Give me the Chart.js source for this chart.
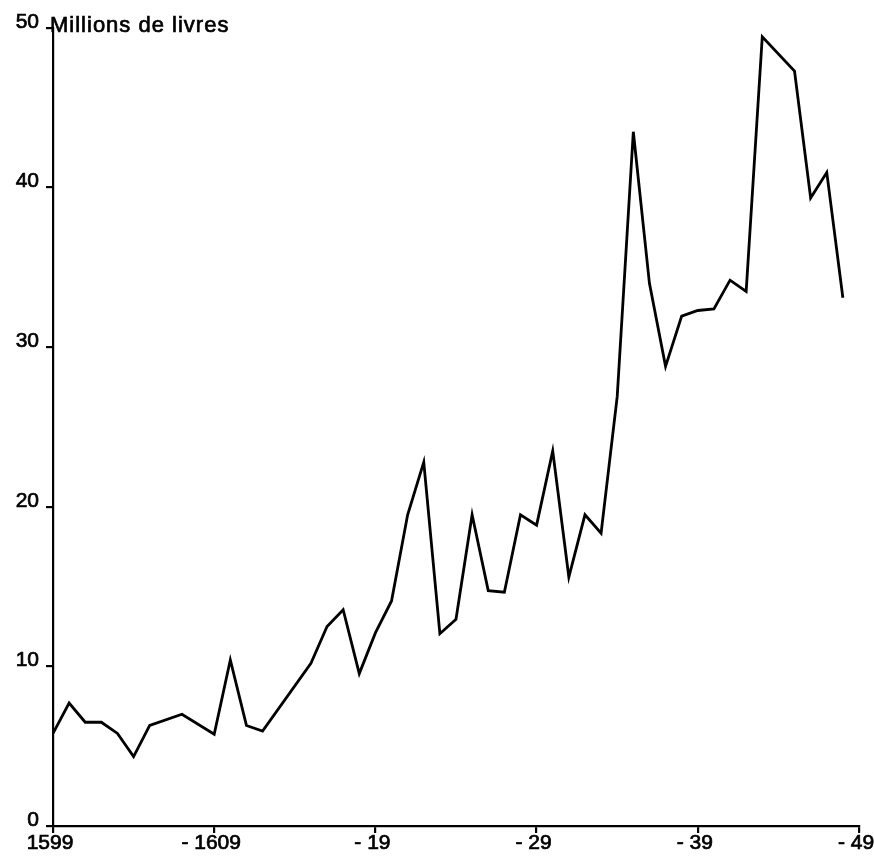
<!DOCTYPE html>
<html>
<head>
<meta charset="utf-8">
<script src="https://cdn.jsdelivr.net/npm/chart.js@4"></script>
<style>
  html, body { margin: 0; padding: 0; background: #fff; }
  #wrap { width: 874px; height: 856px; position: relative; }
</style>
</head>
<body>
<div id="wrap"><canvas id="c"></canvas></div>
<script>
// Years (x) and values in millions of livres (y)
const years = [1599,1600,1601,1602,1603,1604,1605,1607,1609,1610,1611,1612,1615,1616,1617,1618,1619,1620,
               1621,1622,1623,1624,1625,1626,1627,1628,1629,1630,1631,1632,1633,1634,1635,1636,1637,1638,
               1639,1640,1641,1642,1643,1645,1646,1647,1648];
const values = [5.8,7.7,6.5,6.5,5.8,4.35,6.3,7.0,5.75,10.4,6.3,5.95,10.2,12.5,13.55,9.55,12.1,14.1,
                19.5,22.8,12.05,12.95,19.5,14.75,14.65,19.5,18.85,23.5,15.6,19.5,18.35,26.9,43.5,34.0,28.8,31.95,
                32.3,32.4,34.2,33.5,49.45,47.3,39.35,40.95,33.1];
const xTickValues = [1599,1609,1619,1629,1639,1649];
const xTickLabels = ['1599','- 1609','- 19','- 29','- 39','- 49'];
const yTickValues = [0,10,20,30,40,50];
const yTitle = 'Millions de livres';

const FONT = '"Liberation Sans", Arial, sans-serif';

const titlePlugin = {
  id: 'unitTitle',
  afterDraw(chart) {
    const ctx = chart.ctx;
    ctx.save();
    ctx.font = '22px ' + FONT;
    try { ctx.letterSpacing = '1px'; } catch (e) {}
    ctx.fillStyle = '#000';
    ctx.strokeStyle = '#000';
    ctx.lineWidth = 0.7;
    ctx.textAlign = 'left';
    ctx.textBaseline = 'alphabetic';
    const y = chart.scales.y.getPixelForValue(50);
    ctx.fillText(yTitle, chart.chartArea.left - 3, y + 4);
    ctx.strokeText(yTitle, chart.chartArea.left - 3, y + 4);
    ctx.restore();
  }
};

new Chart(document.getElementById('c'), {
  type: 'line',
  data: {
    datasets: [{
      data: years.map((yr, i) => ({ x: yr, y: values[i] })),
      borderColor: '#000',
      borderWidth: 2.8,
      pointRadius: 0,
      tension: 0,
      fill: false
    }]
  },
  options: {
    responsive: true,
    maintainAspectRatio: false,
    animation: false,
    layout: { padding: { top: 28, right: 15, left: 0, bottom: 0 } },
    plugins: { legend: { display: false }, tooltip: { enabled: false }, title: { display: false } },
    scales: {
      x: {
        type: 'linear',
        min: 1599,
        max: 1649,
        afterBuildTicks(scale) { scale.ticks = xTickValues.map(v => ({ value: v })); },
        afterFit(scale) { scale.height = 30; scale.paddingLeft = 0; scale.paddingRight = 0; },
        ticks: {
          color: '#000',
          font: { family: FONT, size: 21 },
          textStrokeColor: '#000',
          textStrokeWidth: 0.7,
          padding: -2,
          labelOffset: -3,
          maxRotation: 0,
          autoSkip: false,
          callback(value) {
            const i = xTickValues.indexOf(value);
            return i >= 0 ? xTickLabels[i] : '';
          }
        },
        grid: { display: true, drawOnChartArea: false, drawTicks: true, tickLength: 7, color: '#000', lineWidth: 2.2 },
        border: { display: true, color: '#000', width: 2.2 }
      },
      y: {
        min: 0,
        max: 50,
        afterBuildTicks(scale) { scale.ticks = yTickValues.map(v => ({ value: v })); },
        afterFit(scale) { scale.width = 53; scale.paddingTop = 0; scale.paddingBottom = 0; },
        ticks: {
          color: '#000',
          font: { family: FONT, size: 21 },
          textStrokeColor: '#000',
          textStrokeWidth: 0.7,
          padding: 7,
          labelOffset: -6,
          callback(value) { return String(value); }
        },
        grid: { display: true, drawOnChartArea: false, drawTicks: true, tickLength: 7, color: '#000', lineWidth: 2.2 },
        border: { display: true, color: '#000', width: 2.2 }
      }
    }
  },
  plugins: [titlePlugin]
});
</script>
</body>
</html>
